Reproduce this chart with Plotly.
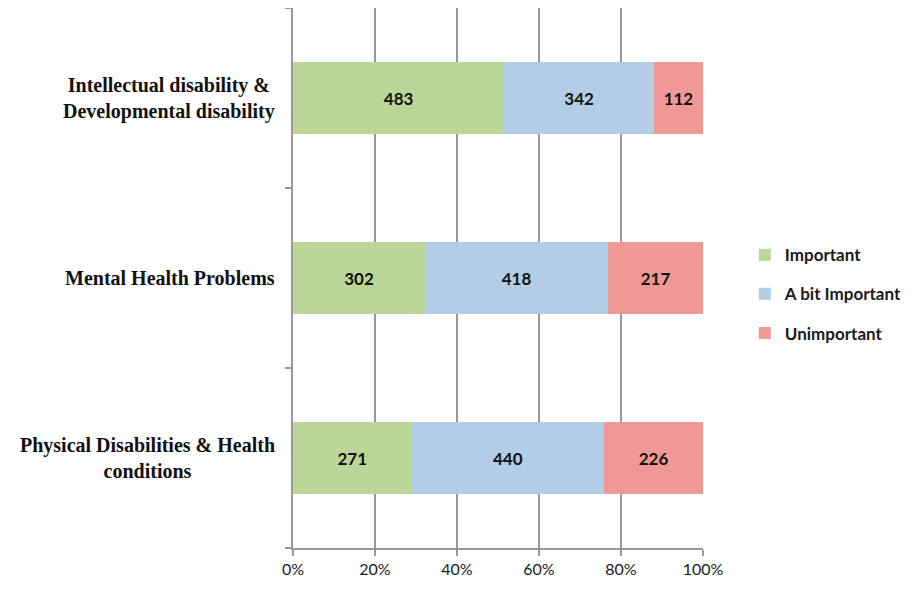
import plotly.graph_objects as go

categories = [
    "Intellectual disability &<br>Developmental disability",
    "Mental Health Problems",
    "Physical Disabilities & Health<br>conditions",
]
important = [483, 302, 271]
a_bit_important = [342, 418, 440]
unimportant = [112, 217, 226]

series = [
    ("Important", important, "#BBD797"),
    ("A bit Important", a_bit_important, "#B3CDE7"),
    ("Unimportant", unimportant, "#F09896"),
]

fig = go.Figure()
for name, vals, color in series:
    fig.add_trace(go.Bar(
        y=categories, x=vals, name=name, orientation="h",
        marker=dict(color=color, line=dict(width=0)),
        text=[str(v) for v in vals], textposition="inside",
        insidetextanchor="middle",
        textfont=dict(family="Lato", size=17, color="#111111", weight="bold"),
        legendgroup=name, hoverinfo="skip",
    ))

for c in categories:
    fig.add_annotation(
        x=-0.04, xref="paper", y=c, yref="y", text="<b>" + c + "</b>",
        showarrow=False, xanchor="right", yanchor="middle", align="center",
        font=dict(family="Liberation Serif", size=20, color="#111"),
    )

fig.update_layout(
    width=920, height=589,
    margin=dict(l=285, r=225, t=0, b=49),
    paper_bgcolor="white", plot_bgcolor="white",
    barmode="stack", barnorm="percent", bargap=0.6,
    showlegend=True,
    legend=dict(
        x=1.102, xanchor="left", y=0.47, yanchor="middle",
        traceorder="grouped", tracegroupgap=14,
        font=dict(family="Lato", size=17, color="#1a1a1a", weight="bold"),
        itemwidth=30,
    ),
    xaxis=dict(
        range=[0, 100], dtick=20, ticksuffix="%",
        showgrid=True, gridcolor="#999999", gridwidth=2,
        showline=True, linecolor="#999999", linewidth=2,
        ticks="outside", ticklen=6, tickcolor="#999999", tickwidth=2,
        tickfont=dict(family="Lato", size=16, color="#1a1a1a"),
        zeroline=False, fixedrange=True,
    ),
    yaxis=dict(
        type="category", categoryorder="array",
        categoryarray=categories[::-1],
        tickson="boundaries", ticks="outside", ticklen=6,
        tickcolor="#999999", tickwidth=2,
        showticklabels=False, showgrid=False,
        showline=True, linecolor="#999999", linewidth=2,
        range=[-0.5, 2.5],
    ),
)

fig.write_html("out.html")
